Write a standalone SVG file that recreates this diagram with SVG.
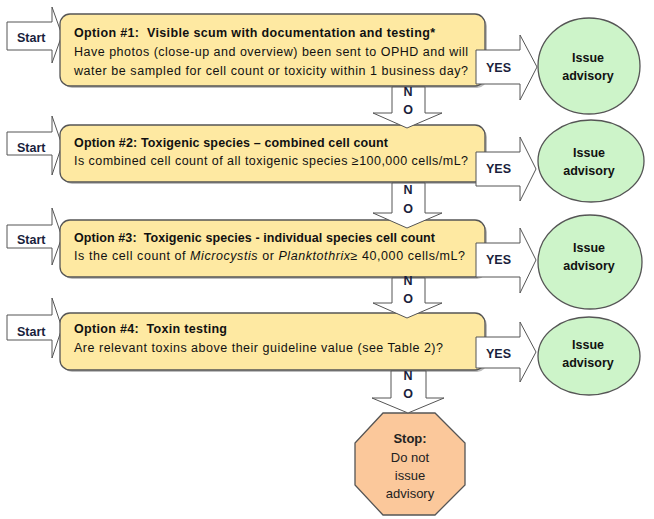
<svg xmlns="http://www.w3.org/2000/svg" width="654" height="519" viewBox="0 0 654 519">
<style>
.box{fill:#fee9a2;stroke:#555;stroke-width:1.3}
.shd{fill:#bdbdbd}
.arr{fill:#fff;stroke:#555;stroke-width:1}
.ell{fill:#cdf4c9;stroke:#555;stroke-width:1.3}
.oct{fill:#fbc89b;stroke:#555;stroke-width:1.3}
text{font-family:"Liberation Sans",Arial,sans-serif;white-space:pre}
.t{font-size:12.5px;fill:#111}
.b{font-weight:bold}
.lbl{font-size:12.5px;font-weight:bold;fill:#1a1f3d}
.ea{font-size:12.5px;font-weight:bold;fill:#111;text-anchor:middle}
.st{font-size:13px;fill:#222;text-anchor:middle}
</style>
<rect width="654" height="519" fill="#fff"/>

<g id="start1"><polygon class="arr" points="7,22 52,22 52,7 62,35 52,63 52,50 7,50"/><text class="lbl" x="17" y="42">Start</text></g>
<g id="start2"><polygon class="arr" points="7,132 52,132 52,116 62,145 52,175 52,155 7,155"/><text class="lbl" x="17" y="152">Start</text></g>
<g id="start3"><polygon class="arr" points="7,225 52,225 52,208 62,237 52,265 52,248 7,248"/><text class="lbl" x="17" y="244">Start</text></g>
<g id="start4"><polygon class="arr" points="7,315 52,315 52,298 62,328 52,358 52,340 7,340"/><text class="lbl" x="17" y="336">Start</text></g>

<g id="option1">
<rect class="shd" x="62" y="16" width="425" height="72" rx="10"/>
<rect class="box" x="60" y="14" width="425" height="72" rx="10"/>
<text class="t b" x="74" y="37" textLength="361">Option #1:  Visible scum with documentation and testing*</text>
<text class="t" x="74" y="56" textLength="394">Have photos (close-up and overview) been sent to OPHD and will</text>
<text class="t" x="74" y="75" textLength="394">water be sampled for cell count or toxicity within 1 business day?</text>
</g>
<g id="option2">
<rect class="shd" x="62" y="127" width="425" height="57" rx="10"/>
<rect class="box" x="60" y="125" width="425" height="57" rx="10"/>
<text class="t b" x="74" y="147" textLength="314">Option #2: Toxigenic species – combined cell count</text>
<text class="t" x="74" y="165" textLength="394">Is combined cell count of all toxigenic species ≥100,000 cells/mL?</text>
</g>
<g id="option3">
<rect class="shd" x="62" y="222" width="425" height="57" rx="10"/>
<rect class="box" x="60" y="220" width="425" height="57" rx="10"/>
<text class="t b" x="74" y="242" textLength="361">Option #3:  Toxigenic species - individual species cell count</text>
<text class="t" x="74" y="260" textLength="391">Is the cell count of <tspan font-style="italic">Microcystis</tspan> or <tspan font-style="italic">Planktothrix</tspan>≥ 40,000 cells/mL?</text>
</g>
<g id="option4">
<rect class="shd" x="62" y="315" width="425" height="57" rx="10"/>
<rect class="box" x="60" y="313" width="425" height="57" rx="10"/>
<text class="t b" x="74" y="333" textLength="153">Option #4:  Toxin testing</text>
<text class="t" x="74" y="352" textLength="369">Are relevant toxins above their guideline value (see Table 2)?</text>
</g>

<g id="advisory1"><ellipse class="ell" cx="589" cy="66" rx="51" ry="48"/><text class="ea" x="588" y="62">Issue</text><text class="ea" x="588" y="80">advisory</text></g>
<g id="advisory2"><ellipse class="ell" cx="591" cy="161" rx="53" ry="41"/><text class="ea" x="589" y="157">Issue</text><text class="ea" x="589" y="175">advisory</text></g>
<g id="advisory3"><ellipse class="ell" cx="590" cy="262" rx="52" ry="47"/><text class="ea" x="589" y="252">Issue</text><text class="ea" x="589" y="270">advisory</text></g>
<g id="advisory4"><ellipse class="ell" cx="589" cy="356" rx="51" ry="39"/><text class="ea" x="588" y="349">Issue</text><text class="ea" x="588" y="367">advisory</text></g>

<g id="stop">
<polygon class="oct" points="383,413 435,413 465,443 465,485 435,515 383,515 355,485 355,443"/>
<text class="st b" x="410" y="443">Stop:</text>
<text class="st" x="410" y="462">Do not</text>
<text class="st" x="410" y="480">issue</text>
<text class="st" x="410" y="498">advisory</text>
</g>

<g id="connectors">
<g id="yes1"><polygon class="arr" points="476,50 520,50 520,35 537,67 520,100 520,84 476,84"/><text class="lbl" x="486" y="72">YES</text></g>
<g id="yes2"><polygon class="arr" points="476,152 520,152 520,137 536,169 520,201 520,186 476,186"/><text class="lbl" x="486" y="173">YES</text></g>
<g id="yes3"><polygon class="arr" points="476,243 520,243 520,228 536,260 520,293 520,277 476,277"/><text class="lbl" x="486" y="264">YES</text></g>
<g id="yes4"><polygon class="arr" points="476,337 520,337 520,322 536,352 520,382 520,368 476,368"/><text class="lbl" x="486" y="358">YES</text></g>
<g id="no1"><polygon class="arr" points="392,87 425,87 425,113 442,113 407,128 373,113 392,113"/><text class="lbl" x="408" y="96" text-anchor="middle">N</text><text class="lbl" x="408" y="114" text-anchor="middle">O</text></g>
<g id="no2"><polygon class="arr" points="392,183 425,183 425,213 442,213 407,228 373,213 392,213"/><text class="lbl" x="408" y="194" text-anchor="middle">N</text><text class="lbl" x="408" y="213" text-anchor="middle">O</text></g>
<g id="no3"><polygon class="arr" points="392,278 425,278 425,303 442,303 407,318 373,303 392,303"/><text class="lbl" x="408" y="285" text-anchor="middle">N</text><text class="lbl" x="408" y="303" text-anchor="middle">O</text></g>
<g id="no4"><polygon class="arr" points="391,371 426,371 426,398 444,398 408,413 372,398 391,398"/><text class="lbl" x="408" y="380" text-anchor="middle">N</text><text class="lbl" x="408" y="398" text-anchor="middle">O</text></g>
</g>
</svg>
